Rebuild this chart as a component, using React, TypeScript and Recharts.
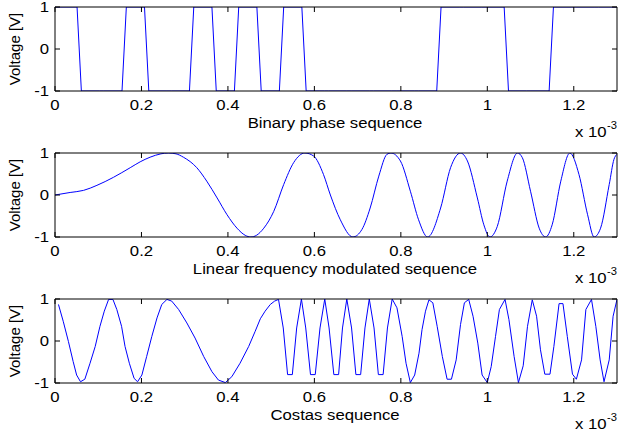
import React from 'react';
import { LineChart, Line, XAxis, YAxis } from 'recharts';

// time axis is in units of 1e-3 s
const timeTicks = [0, 0.2, 0.4, 0.6, 0.8, 1, 1.2];
const voltTicks = [-1, 0, 1];
const captions = ['Binary phase sequence', 'Linear frequency modulated sequence', 'Costas sequence'];

const chipLength = 0.052;
const binaryBits = [1, -1, -1, 1, -1, -1, 1, -1, 1, -1, 1, -1, -1, -1, -1, -1, -1, 1, 1, 1, -1, -1, 1, 1, 1];

// [time, voltage]
const lfmPoints: [number, number][] = [
  [0, 0], [0.035, 0.06], [0.066, 0.11], [0.097, 0.23], [0.135, 0.42], [0.174, 0.65],
  [0.197, 0.79], [0.22, 0.9], [0.245, 0.98], [0.262, 1], [0.28, 0.98], [0.297, 0.9],
  [0.328, 0.65], [0.351, 0.33], [0.375, -0.07], [0.398, -0.47], [0.421, -0.79], [0.44, -0.96],
  [0.453, -1], [0.466, -0.96], [0.483, -0.79], [0.506, -0.39], [0.529, 0.25], [0.552, 0.77],
  [0.578, 1], [0.598, 0.93], [0.621, 0.49], [0.637, 0], [0.66, -0.59], [0.689, -1],
  [0.71, -0.82], [0.729, -0.31], [0.749, 0.45], [0.768, 0.97], [0.777, 1], [0.799, 0.81],
  [0.822, 0.09], [0.841, -0.59], [0.862, -1], [0.892, -0.31], [0.915, 0.65], [0.938, 1],
  [0.954, 0.81], [0.977, -0.07], [0.992, -0.71], [1.006, -1], [1.023, -0.75], [1.046, 0.33],
  [1.07, 1], [1.081, 0.89], [1.1, 0.09], [1.12, -0.79], [1.135, -1], [1.15, -0.71],
  [1.17, 0.33], [1.191, 1], [1.212, 0.49], [1.232, -0.47], [1.247, -1], [1.262, -0.79],
  [1.282, 0.25], [1.293, 0.85], [1.3, 0.97],
];

const costasPoints: [number, number][] = [
  [0.008, 0.87], [0.019, 0.47], [0.031, -0.01], [0.042, -0.49], [0.05, -0.81], [0.059, -0.97],
  [0.069, -0.91], [0.081, -0.53], [0.093, -0.13], [0.104, 0.35], [0.114, 0.71], [0.124, 0.99],
  [0.134, 0.99], [0.143, 0.75], [0.154, 0.35], [0.162, -0.13], [0.172, -0.53], [0.183, -0.89],
  [0.191, -0.97], [0.201, -0.81], [0.212, -0.37], [0.224, 0.11], [0.236, 0.55], [0.247, 0.87],
  [0.259, 0.99], [0.27, 0.95], [0.286, 0.75], [0.305, 0.43], [0.324, 0.07], [0.344, -0.37],
  [0.363, -0.73], [0.378, -0.93], [0.394, -0.99], [0.409, -0.85], [0.428, -0.53], [0.448, -0.13],
  [0.463, 0.23], [0.475, 0.53], [0.486, 0.71], [0.498, 0.87], [0.508, 0.95], [0.517, 0.99],
  [0.528, 0.31], [0.538, -0.8], [0.549, -0.8], [0.559, 0.31], [0.57, 1],
  [0.58, 0.31], [0.591, -0.8], [0.602, -0.8], [0.613, 0.31], [0.624, 1],
  [0.634, 0.31], [0.645, -0.8], [0.656, -0.8], [0.665, 0.31], [0.675, 1],
  [0.686, 0.31], [0.696, -0.8], [0.707, -0.8], [0.717, 0.31], [0.727, 1],
  [0.738, 0.31], [0.748, -0.8], [0.759, -0.8], [0.769, 0.31], [0.78, 1],
  [0.791, 0.79], [0.803, 0.11], [0.812, -0.53], [0.822, -0.99], [0.832, -0.81], [0.842, -0.29],
  [0.849, 0.27], [0.857, 0.71], [0.865, 0.98], [0.874, 0.91], [0.884, 0.35], [0.896, -0.37],
  [0.907, -0.91], [0.917, -0.91], [0.928, -0.45], [0.938, 0.39], [0.947, 0.91], [0.957, 0.99],
  [0.967, 0.59], [0.978, -0.05], [0.988, -0.81], [1.0, -0.99], [1.009, -0.61], [1.019, 0.11],
  [1.028, 0.75], [1.041, 0.99], [1.05, 0.51], [1.062, -0.37], [1.072, -0.99], [1.083, -0.59],
  [1.093, 0.35], [1.104, 0.98], [1.114, 0.59], [1.123, -0.21], [1.133, -0.79], [1.145, -0.79],
  [1.154, -0.13], [1.166, 0.89], [1.175, 0.89], [1.185, 0.11], [1.197, -0.79], [1.206, -0.91],
  [1.218, -0.45], [1.228, 0.75], [1.241, 0.99], [1.251, 0.35], [1.261, -0.45], [1.27, -0.97],
  [1.282, -0.45], [1.291, 0.59], [1.3, 0.99],
];

// each chip is held flat, with a one-sample ramp into the next chip
const binaryData = binaryBits.flatMap((b, k) => [
  { t: k === 0 ? 0 : k * chipLength + 0.009, v: b },
  { t: k === binaryBits.length - 1 ? 1.3 : (k + 1) * chipLength - 0.001, v: b },
]);
const lfmData = lfmPoints.map(([t, v]) => ({ t, v }));
const costasData = costasPoints.map(([t, v]) => ({ t, v }));

const FONT = 'Liberation Sans, Arial, Helvetica, sans-serif';
const STRETCH = 1.115;
const PLOT_TOPS = [7, 153, 299];
const PLOT_H = 84;
const PLOT_LEFT = 55;
const PLOT_RIGHT = 617;

const fmt = (v: number) => String(Math.round(v * 10) / 10);

const BottomTick = (p: any) => (
  <g>
    <line x1={p.x} y1={p.y} x2={p.x} y2={p.y - 5} stroke="#000" />
    <text
      transform={`translate(${p.x},${p.y + 18.5}) scale(${STRETCH},1)`}
      textAnchor="middle"
      fontSize={15}
      fontFamily={FONT}
      fill="#000"
    >
      {fmt(p.payload.value)}
    </text>
  </g>
);

const TopTick = (p: any) => <line x1={p.x} y1={p.y} x2={p.x} y2={p.y + 5} stroke="#000" />;

const LeftTick = (p: any) => (
  <g>
    <line x1={p.x} y1={p.y} x2={p.x + 5} y2={p.y} stroke="#000" />
    <text
      transform={`translate(${p.x - 6},${p.y + 5}) scale(${STRETCH},1)`}
      textAnchor="end"
      fontSize={15}
      fontFamily={FONT}
      fill="#000"
    >
      {fmt(p.payload.value)}
    </text>
  </g>
);

const RightTick = (p: any) => <line x1={p.x} y1={p.y} x2={p.x - 5} y2={p.y} stroke="#000" />;

function Panel({ data, top, curve }: { data: { t: number; v: number }[]; top: number; curve: 'linear' | 'monotone' }) {
  return (
    <div style={{ position: 'absolute', left: 0, top: top - 7 }}>
      <LineChart width={619} height={140} data={data} margin={{ top: 6, right: 619 - PLOT_RIGHT - 1, bottom: 0, left: 0 }}>
        <XAxis
          xAxisId="b"
          type="number"
          dataKey="t"
          domain={[0, 1.3]}
          allowDataOverflow
          ticks={timeTicks}
          interval={0}
          height={49}
          tickSize={0}
          tickMargin={0}
          tickLine={false}
          axisLine={{ stroke: '#000' }}
          tick={BottomTick}
        />
        <XAxis
          xAxisId="t"
          orientation="top"
          type="number"
          dataKey="t"
          domain={[0, 1.3]}
          allowDataOverflow
          ticks={timeTicks}
          interval={0}
          height={1}
          tickSize={0}
          tickMargin={0}
          tickLine={false}
          axisLine={{ stroke: '#000' }}
          tick={TopTick}
        />
        <YAxis
          yAxisId="l"
          type="number"
          domain={[-1, 1]}
          allowDataOverflow
          ticks={voltTicks}
          interval={0}
          width={PLOT_LEFT}
          tickSize={0}
          tickMargin={0}
          tickLine={false}
          axisLine={{ stroke: '#000' }}
          tick={LeftTick}
        />
        <YAxis
          yAxisId="r"
          orientation="right"
          type="number"
          domain={[-1, 1]}
          allowDataOverflow
          ticks={voltTicks}
          interval={0}
          width={1}
          tickSize={0}
          tickMargin={0}
          tickLine={false}
          axisLine={{ stroke: '#000' }}
          tick={RightTick}
        />
        <Line
          xAxisId="b"
          yAxisId="l"
          dataKey="v"
          type={curve}
          stroke="#0000ff"
          strokeWidth={1}
          dot={false}
          activeDot={false}
          isAnimationActive={false}
        />
      </LineChart>
    </div>
  );
}

export default function App() {
  const midX = (PLOT_LEFT + PLOT_RIGHT) / 2 - 1;
  return (
    <div style={{ position: 'absolute', left: 0, top: 0, width: 619, height: 432, background: '#fff', overflow: 'hidden' }}>
      <Panel data={binaryData} top={PLOT_TOPS[0]} curve="linear" />
      <Panel data={lfmData} top={PLOT_TOPS[1]} curve="monotone" />
      <Panel data={costasData} top={PLOT_TOPS[2]} curve="linear" />
      <svg width={619} height={432} style={{ position: 'absolute', left: 0, top: 0, pointerEvents: 'none' }}>
        {PLOT_TOPS.map((top, i) => {
          const bottom = top + PLOT_H;
          return (
            <g key={i} fontFamily={FONT} fill="#000">
              <text transform={`translate(20,${top + PLOT_H / 2}) rotate(-90)`} textAnchor="middle" fontSize={15}>
                Voltage [V]
              </text>
              <text transform={`translate(${midX},${bottom + 37}) scale(${STRETCH},1)`} textAnchor="middle" fontSize={15}>
                {captions[i]}
              </text>
              <text transform={`translate(575,${bottom + 46}) scale(${STRETCH},1)`} fontSize={15}>
                x 10
              </text>
              <text transform={`translate(607,${bottom + 38}) scale(${STRETCH},1)`} fontSize={10}>
                -3
              </text>
            </g>
          );
        })}
      </svg>
    </div>
  );
}
